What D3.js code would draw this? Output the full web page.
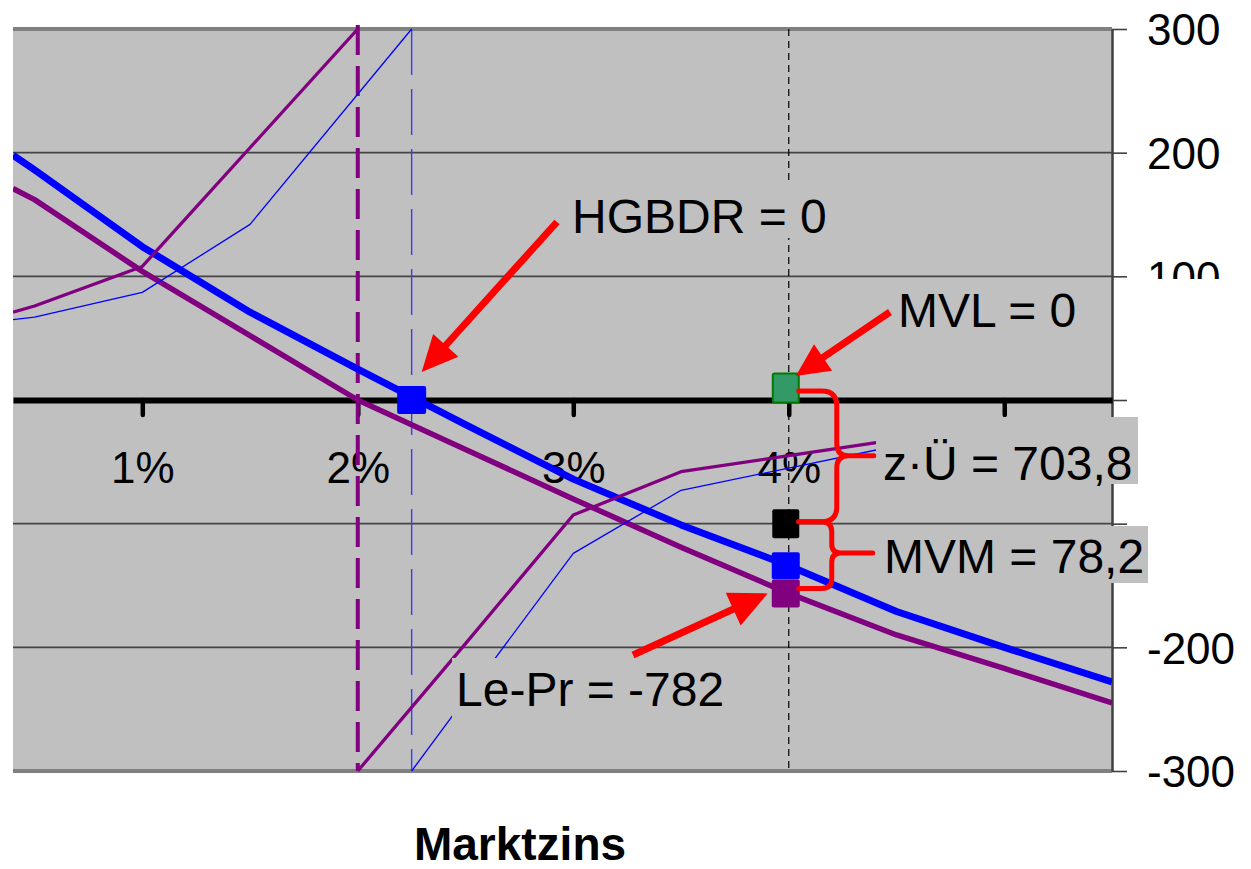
<!DOCTYPE html>
<html>
<head>
<meta charset="utf-8">
<script src="https://cdn.jsdelivr.net/npm/d3@7"></script>
<style>
  html, body { margin: 0; padding: 0; background: #ffffff; }
  svg { display: block; font-family: "Liberation Sans", Arial, Helvetica, sans-serif; }
</style>
</head>
<body>
<svg id="chart" width="1251" height="869"></svg>
<script>
// ---------- data ----------
// market rate grid (%) for the two present-value curves
const rates = [0.4, 0.5, 1, 1.5, 2, 2.5, 3, 3.5, 4, 4.5, 5, 5.5];
const valueBlue   = [198, 186, 124, 71, 25, -20, -64, -101, -134, -171, -200, -228];
const valuePurple = [171, 162, 104, 52, 0, -40, -80, -119, -156.4, -190, -217, -245];

// thin curves, split at their poles
const thinPurpleLeftRates  = [0.4, 0.5, 1, 2];
const thinPurpleLeftVals   = [71, 76, 108, 300];
const thinPurpleRightRates = [2, 2.5, 3, 3.5, 4, 4.5];
const thinPurpleRightVals  = [-300, -197, -93, -58, -45, -32];
const thinBlueLeftRates    = [0.4, 0.5, 1, 1.5, 2.25];
const thinBlueLeftVals     = [65, 67, 87, 142, 300];
const thinBlueRightRates   = [2.25, 2.5, 3, 3.5, 4, 4.5];
const thinBlueRightVals    = [-300, -241, -124, -73, -55, -37];

// pole positions (%)
const polePurple = 2;
const poleBlue = 2.25;

// axis ticks
const xTickValues = [1, 2, 3, 4, 5];
const xTickLabels = ["1%", "2%", "3%", "4%", ""];
const yTickValues = [-300, -200, -100, 0, 100, 200, 300];
const yTickLabels = ["-300", "-200", "-100", "0", "100", "200", "300"];

// highlighted points
const focusRate = 4;
const hgbdrRate = 2.25, hgbdrValue = 0;
const mvlValue = 0;
const blackValue = -100;
const lePrValue = -156.4;

// annotation texts
const xTitle = "Marktzins";
const labelHGBDR = "HGBDR = 0";
const labelMVL = "MVL = 0";
const labelZU = "z\u00B7\u00DC = 703,8";
const labelMVM = "MVM = 78,2";
const labelLePr = "Le-Pr = -782";

// ---------- setup ----------
const svg = d3.select("#chart");
const plot = { left: 13, right: 1112, top: 29, bottom: 771 };
const x = d3.scaleLinear().domain([0.4, 5.5]).range([plot.left, plot.right]);
const y = d3.scaleLinear().domain([-300, 300]).range([plot.bottom, plot.top]);

const BLUE = "#0000ff", PURPLE = "#800080", RED = "#ff0000", GREY = "#c0c0c0";

svg.append("defs").append("clipPath").attr("id", "plotClip")
  .append("rect")
  .attr("x", plot.left).attr("y", plot.top - 6)
  .attr("width", plot.right - plot.left).attr("height", plot.bottom - plot.top + 8);

// plot background
svg.append("rect")
  .attr("x", plot.left).attr("y", plot.top)
  .attr("width", plot.right - plot.left).attr("height", plot.bottom - plot.top)
  .attr("fill", GREY);

// horizontal gridlines
svg.append("g").selectAll("line")
  .data(yTickValues.filter(v => v !== 0 && Math.abs(v) !== 300))
  .join("line")
  .attr("x1", plot.left).attr("x2", plot.right)
  .attr("y1", d => y(d)).attr("y2", d => y(d))
  .attr("stroke", "#454545").attr("stroke-width", 1.6);

// top and bottom border
svg.append("g").selectAll("line")
  .data([300, -300])
  .join("line")
  .attr("x1", plot.left).attr("x2", plot.right)
  .attr("y1", d => y(d)).attr("y2", d => y(d))
  .attr("stroke", "#808080").attr("stroke-width", 4);

// right value axis
const yAxis = svg.append("g")
  .attr("transform", `translate(${plot.right},0)`)
  .call(d3.axisRight(y).tickValues(yTickValues).tickSize(15).tickSizeOuter(0)
    .tickFormat((d, i) => yTickLabels[i]));
yAxis.select(".domain").attr("stroke", "#404040").attr("stroke-width", 2.5);
yAxis.selectAll(".tick line").attr("stroke", "#404040").attr("stroke-width", 1.6);
yAxis.selectAll(".tick text")
  .attr("x", 35).attr("dy", "0.36em")
  .attr("text-anchor", "start")
  .attr("fill", "#000").attr("font-size", 44)
  .attr("font-family", "'Liberation Sans', Arial, sans-serif");

// vertical dashed reference line at the focus rate
svg.append("line")
  .attr("x1", x(focusRate)).attr("x2", x(focusRate))
  .attr("y1", plot.top).attr("y2", plot.bottom)
  .attr("stroke", "#000").attr("stroke-width", 1.2)
  .attr("stroke-dasharray", "7,5");

// horizontal zero axis with rate ticks
const xAxis = svg.append("g")
  .attr("transform", `translate(0,${y(0)})`)
  .call(d3.axisBottom(x).tickValues(xTickValues).tickSize(15).tickSizeOuter(0)
    .tickFormat((d, i) => xTickLabels[i]));
xAxis.select(".domain").attr("stroke", "#000").attr("stroke-width", 6)
  .attr("stroke-linecap", "butt");
xAxis.selectAll(".tick line").attr("stroke", "#000").attr("stroke-width", 4.5)
  .attr("stroke-linecap", "round");
xAxis.selectAll(".tick text")
  .attr("y", 83).attr("dy", 0)
  .attr("fill", "#000").attr("font-size", 44)
  .attr("font-family", "'Liberation Sans', Arial, sans-serif");

// ---------- curves ----------
const lines = svg.append("g").attr("clip-path", "url(#plotClip)");
const line = d3.line().x(d => x(d[0])).y(d => y(d[1]));
const zip = (a, b) => a.map((v, i) => [v, b[i]]);

// pole asymptotes
lines.append("line")
  .attr("x1", x(polePurple)).attr("x2", x(polePurple))
  .attr("y1", plot.top - 4).attr("y2", plot.bottom)
  .attr("stroke", PURPLE).attr("stroke-width", 4)
  .attr("stroke-dasharray", "30,11");
lines.append("line")
  .attr("x1", x(poleBlue)).attr("x2", x(poleBlue))
  .attr("y1", plot.top).attr("y2", plot.bottom)
  .attr("stroke", "#3b3bff").attr("stroke-width", 1.4)
  .attr("stroke-dasharray", "46,14");

const series = [
  { pts: zip(rates, valueBlue), color: BLUE, w: 7 },
  { pts: zip(rates, valuePurple), color: PURPLE, w: 5.5 },
  { pts: zip(thinPurpleLeftRates, thinPurpleLeftVals), color: PURPLE, w: 3.3 },
  { pts: zip(thinPurpleRightRates, thinPurpleRightVals), color: PURPLE, w: 3.3 },
  { pts: zip(thinBlueLeftRates, thinBlueLeftVals), color: BLUE, w: 1.3 },
  { pts: zip(thinBlueRightRates, thinBlueRightVals), color: BLUE, w: 1.3 }
];
lines.selectAll("path.curve")
  .data(series)
  .join("path")
  .attr("class", "curve")
  .attr("d", d => line(d.pts))
  .attr("fill", "none")
  .attr("stroke", d => d.color)
  .attr("stroke-width", d => d.w)
  .attr("stroke-linejoin", "round");

// cover for right-side value labels behind the annotation column
svg.append("rect")
  .attr("x", 1130).attr("y", 279).attr("width", 121).attr("height", 330)
  .attr("fill", "#ffffff");

// ---------- annotation boxes and texts ----------
const labels = [
  { text: labelHGBDR, tx: 572, ty: 233, box: [565, 184, 265, 54] },
  { text: labelMVL,   tx: 898, ty: 327, box: null },
  { text: labelZU,    tx: 883, ty: 480, box: [876, 417, 262, 67] },
  { text: labelMVM,   tx: 884, ty: 573, box: [876, 526, 272, 57] },
  { text: labelLePr,  tx: 456, ty: 706, box: [452, 658, 274, 60] }
];
const ann = svg.append("g");
ann.selectAll("rect.box")
  .data(labels.filter(d => d.box))
  .join("rect")
  .attr("class", "box")
  .attr("x", d => d.box[0]).attr("y", d => d.box[1])
  .attr("width", d => d.box[2]).attr("height", d => d.box[3])
  .attr("fill", GREY);
ann.selectAll("text.lbl")
  .data(labels)
  .join("text")
  .attr("class", "lbl")
  .attr("x", d => d.tx).attr("y", d => d.ty)
  .attr("font-size", 48).attr("fill", "#000")
  .text(d => d.text);

// axis title
svg.append("text")
  .attr("x", 520).attr("y", 860)
  .attr("text-anchor", "middle")
  .attr("font-size", 46).attr("font-weight", "bold").attr("fill", "#000")
  .text(xTitle);

// ---------- markers ----------
const fx = x(focusRate) - 3;
const markers = [
  { cx: x(hgbdrRate), cy: y(hgbdrValue), w: 29, h: 28, fill: BLUE, stroke: "none" },
  { cx: fx, cy: y(mvlValue) - 12, w: 26, h: 29, fill: "#339966", stroke: "#007a00" },
  { cx: fx, cy: y(blackValue), w: 27, h: 29, fill: "#000000", stroke: "none" },
  { cx: fx, cy: y(valueBlue[rates.indexOf(focusRate)]), w: 28, h: 27, fill: BLUE, stroke: "none" },
  { cx: fx, cy: y(lePrValue), w: 28, h: 28, fill: PURPLE, stroke: "none" }
];
svg.append("g").selectAll("rect")
  .data(markers)
  .join("rect")
  .attr("x", d => d.cx - d.w / 2).attr("y", d => d.cy - d.h / 2)
  .attr("width", d => d.w).attr("height", d => d.h)
  .attr("rx", 2)
  .attr("fill", d => d.fill)
  .attr("stroke", d => d.stroke).attr("stroke-width", 2);

// ---------- braces ----------
function brace(x0, yTop, yBot, xs, yMid, xNose, r, rn) {
  return `M${x0},${yTop} L${xs - r},${yTop} Q${xs},${yTop} ${xs},${yTop + r} ` +
         `L${xs},${yMid - rn} Q${xs},${yMid} ${xs + rn},${yMid} L${xNose},${yMid} ` +
         `M${xs + rn},${yMid} Q${xs},${yMid} ${xs},${yMid + rn} ` +
         `L${xs},${yBot - r} Q${xs},${yBot} ${xs - r},${yBot} L${x0},${yBot}`;
}
const bx0 = fx + 13;
const yGreen = y(mvlValue) - 9, yBlack = y(blackValue) - 2, yPurple = y(lePrValue) - 5;
const braces = svg.append("g")
  .attr("fill", "none").attr("stroke", RED).attr("stroke-width", 5)
  .attr("stroke-linecap", "round").attr("stroke-linejoin", "round");
braces.append("path").attr("d", brace(bx0, yGreen, yBlack, bx0 + 38, (yGreen + yBlack) / 2 - 0.5, bx0 + 75, 15, 12));
braces.append("path").attr("d", brace(bx0, yBlack, yPurple, bx0 + 33, (yBlack + yPurple) / 2 - 2, bx0 + 74, 10, 9));

// ---------- arrows ----------
function arrow(g, tail, tip, headLen, halfW, width) {
  const dx = tip[0] - tail[0], dy = tip[1] - tail[1];
  const len = Math.hypot(dx, dy), ux = dx / len, uy = dy / len;
  const bx = tip[0] - ux * headLen, by = tip[1] - uy * headLen;
  g.append("line")
    .attr("x1", tail[0]).attr("y1", tail[1])
    .attr("x2", bx + ux * 4).attr("y2", by + uy * 4)
    .attr("stroke", RED).attr("stroke-width", width);
  g.append("path")
    .attr("d", `M${tip[0]},${tip[1]} L${bx - uy * halfW},${by + ux * halfW} L${bx + uy * halfW},${by - ux * halfW} Z`)
    .attr("fill", RED);
}
const arrows = svg.append("g");
arrow(arrows, [557, 222], [x(hgbdrRate) + 10, y(hgbdrValue) - 28], 36, 17, 7);
arrow(arrows, [890, 312], [fx + 10, y(mvlValue) - 24], 33, 16, 7);
arrow(arrows, [633, 655], [fx - 18, y(lePrValue)], 38, 18, 7);
</script>
</body>
</html>
